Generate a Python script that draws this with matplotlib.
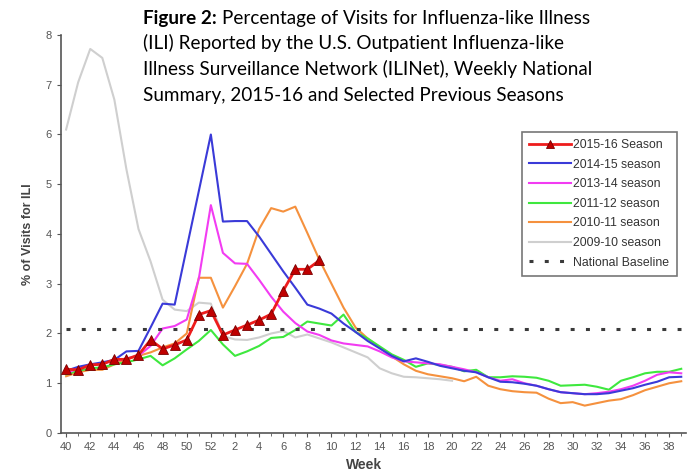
import matplotlib
matplotlib.use('Agg')
import matplotlib.pyplot as plt

# weeks of the flu season (week 40 through week 39)
weeks = list(range(40, 53)) + list(range(1, 40))
tick_weeks = weeks[::2]

s1516 = [1.28, 1.27, 1.37, 1.38, 1.48, 1.48, 1.57, 1.87, 1.69, 1.77, 1.87, 2.38, 2.46,
         1.97, 2.07, 2.17, 2.27, 2.39, 2.86, 3.29, 3.29, 3.47]
s1415 = [1.25, 1.33, 1.38, 1.42, 1.47, 1.64, 1.65, 2.12, 2.6, 2.58, 3.72, 4.86, 6.0,
         4.25, 4.26, 4.26, 3.95, 3.6, 3.25, 2.92, 2.58, 2.5, 2.4, 2.2, 2.03,
         1.85, 1.7, 1.55, 1.44, 1.5, 1.43, 1.35, 1.3, 1.25, 1.22, 1.12, 1.03,
         1.02, 0.99, 0.95, 0.88, 0.82, 0.8, 0.78, 0.78, 0.8, 0.85, 0.9, 0.97,
         1.03, 1.12, 1.13]
s1314 = [1.2, 1.3, 1.35, 1.4, 1.45, 1.5, 1.55, 1.75, 2.1, 2.15, 2.28, 3.1, 4.58,
         3.62, 3.41, 3.4, 3.08, 2.74, 2.44, 2.21, 2.04, 1.97, 1.86, 1.8, 1.77,
         1.74, 1.64, 1.52, 1.44, 1.42, 1.4, 1.38, 1.33, 1.28, 1.22, 1.12, 1.05,
         1.08, 1.0, 0.95, 0.88, 0.82, 0.8, 0.78, 0.8, 0.83, 0.88, 0.95, 1.05,
         1.17, 1.22, 1.2]
s1112 = [1.18, 1.25, 1.3, 1.32, 1.38, 1.42, 1.48, 1.55, 1.36, 1.5, 1.68, 1.85, 2.07,
         1.78, 1.55, 1.64, 1.75, 1.91, 1.93, 2.07, 2.24, 2.2, 2.16, 2.38, 2.03,
         1.9, 1.74, 1.58, 1.47, 1.33, 1.4, 1.37, 1.33, 1.24, 1.27, 1.12, 1.12,
         1.14, 1.13, 1.11, 1.05, 0.95, 0.96, 0.97, 0.93, 0.87, 1.05, 1.12, 1.2,
         1.23, 1.23, 1.29]
s1011 = [1.14, 1.22, 1.27, 1.27, 1.38, 1.48, 1.55, 1.62, 1.72, 1.8, 2.0, 3.12, 3.12,
         2.52, 2.95, 3.4, 4.1, 4.52, 4.45, 4.55, 4.02, 3.48, 3.0, 2.52, 2.12,
         1.9, 1.72, 1.54, 1.38, 1.25, 1.18, 1.14, 1.1, 1.04, 1.13, 0.95, 0.88,
         0.84, 0.82, 0.81, 0.69, 0.6, 0.62, 0.55, 0.6, 0.65, 0.68, 0.76, 0.86,
         0.93, 1.0, 1.04]
s0910 = [6.1, 7.05, 7.72, 7.54, 6.7, 5.3, 4.1, 3.45, 2.68, 2.48, 2.45, 2.62, 2.6,
         1.95, 1.88, 1.87, 1.92, 2.0, 2.05, 1.92, 1.98, 1.9, 1.82, 1.72, 1.62,
         1.52, 1.3, 1.2, 1.13, 1.12, 1.1, 1.08, 1.05]
baseline = 2.1

fig = plt.figure(figsize=(7, 4.73), dpi=100)
ax = fig.add_axes([0.0867, 0.0846, 0.8934, 0.8414])

idx = list(range(len(weeks)))
ax.plot(idx[:len(s0910)], s0910, color='#cfcfcf', lw=1.5, label='2009-10 season', zorder=2)
ax.plot(idx, s1011, color='#f5913e', lw=1.5, label='2010-11 season', zorder=3)
ax.plot(idx, s1112, color='#3ee83e', lw=1.5, label='2011-12 season', zorder=3)
ax.plot(idx, s1314, color='#f23cf2', lw=1.5, label='2013-14 season', zorder=3)
ax.plot(idx, s1415, color='#3a3ad8', lw=1.5, label='2014-15 season', zorder=4)
ax.plot(idx, [baseline] * len(idx), color='#3a3a3a', lw=2.2, dashes=(1.3, 3.7),
        label='National Baseline', zorder=5)
ax.plot(idx[:len(s1516)], s1516, color='#ee1c1c', lw=2, marker='^', ms=6.5,
        mfc='#c00000', mec='#7a0000', mew=0.6, label='2015-16 Season', zorder=6)

ax.set_ylim(0, 8)
ax.set_xlim(-0.45, 51.4)
ax.set_yticks(range(0, 9))
ax.set_xticks(idx[::2])
ax.set_xticklabels(tick_weeks)
ax.set_xticks(idx, minor=True)
for s in ['top', 'right']:
    ax.spines[s].set_visible(False)
for s in ['left', 'bottom']:
    ax.spines[s].set_color('#555555')
    ax.spines[s].set_linewidth(1.2)
ax.tick_params(axis='both', which='both', colors='#555555', labelsize=8, length=3,
               labelcolor='#555555')
ax.tick_params(axis='x', which='minor', length=2)
for lab in ax.get_xticklabels() + ax.get_yticklabels():
    lab.set_family('Liberation Sans')
ax.set_xlabel('Week', fontsize=10, color='#444444', family='Liberation Sans',
              fontweight='bold', labelpad=4)
ax.xaxis.set_label_coords(0.485, -0.062)
ax.set_ylabel('% of Visits for ILI', fontsize=9, color='#444444', family='Liberation Sans',
              fontweight='bold', labelpad=8)

order = ['2015-16 Season', '2014-15 season', '2013-14 season', '2011-12 season',
         '2010-11 season', '2009-10 season', 'National Baseline']
handles, labels = ax.get_legend_handles_labels()
hmap = dict(zip(labels, handles))
leg = ax.legend([hmap[k] for k in order], order, loc='upper left',
                bbox_to_anchor=(0.728, 0.772), frameon=True, fancybox=False,
                prop={'family': 'Liberation Sans', 'size': 8.8}, handlelength=3.4,
                labelspacing=0.62, handletextpad=0.2, borderpad=0.6, markerscale=0.85)
leg.get_frame().set_edgecolor('#555555')
leg.get_frame().set_linewidth(1.2)
for t in leg.get_texts():
    t.set_color('#333333')

# title block
lines = ['Percentage of Visits for Influenza-like Illness',
         '(ILI) Reported by the U.S. Outpatient Influenza-like',
         'Illness Surveillance Network (ILINet), Weekly National',
         'Summary, 2015-16 and Selected Previous Seasons']
fs = 13.6
x0 = 143 / 700
r = fig.canvas.get_renderer()
bold = fig.text(x0, 1 - 24 / 473, 'Figure 2:', fontsize=fs, fontweight='bold',
                family='Lato', va='baseline', color='black')
bb = bold.get_window_extent(renderer=r)
fig.text(bb.x1 / 700 + 5 / 700, 1 - 24 / 473, lines[0], fontsize=fs, family='Lato',
         va='baseline', color='black')
for i, t in enumerate(lines[1:]):
    fig.text(x0, 1 - (24 + 25.5 * (i + 1)) / 473, t, fontsize=fs, family='Lato',
             va='baseline', color='black')

fig.savefig('out.png', dpi=100)
